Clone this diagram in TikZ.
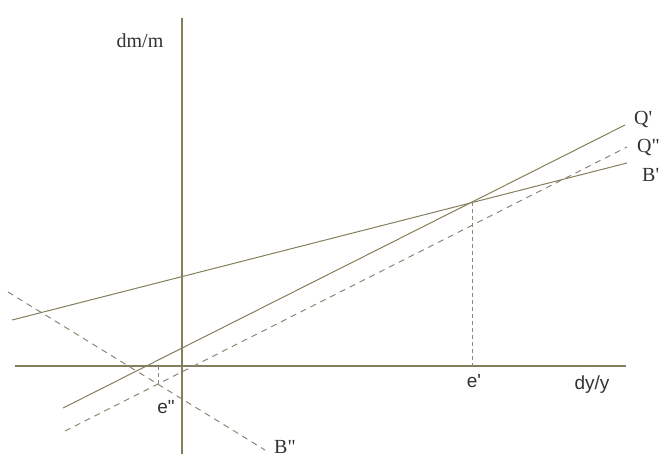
\documentclass[tikz,border=0pt]{standalone}
\usepackage{fontspec}
\setmainfont{Liberation Serif}
\setsansfont{Liberation Sans}
\usetikzlibrary{positioning}
\definecolor{linecol}{RGB}{132,126,92}
\definecolor{dashcol}{RGB}{140,134,114}
\definecolor{labelcol}{RGB}{50,50,50}

\begin{document}
\begin{tikzpicture}[x=1pt, y=-1pt, font=\fontsize{20}{22}\selectfont,
  axis/.style={draw=linecol, line width=1.1pt},
  curve/.style={draw=linecol, line width=1pt},
  shifted/.style={draw=dashcol, line width=1pt, dash pattern=on 6pt off 5pt},
  guide/.style={draw=dashcol, line width=0.8pt, dash pattern=on 4pt off 3pt},
  lbl/.style={text=labelcol, inner sep=0pt},
  slbl/.style={lbl, font=\fontsize{19}{21}\selectfont\sffamily}]

  \useasboundingbox (0,0) rectangle (660,456);

  % Define coordinates for the axes and the line ends
  \coordinate (Vtop) at (182, 18);
  \coordinate (Vbot) at (182, 454);
  \coordinate (Hleft) at (15, 366);
  \coordinate (Hright) at (626, 366);
  \coordinate (Bp0) at (12, 320);
  \coordinate (Bp1) at (627, 163);
  \coordinate (Qp0) at (63, 408);
  \coordinate (Qp1) at (625, 125);
  \coordinate (Qpp0) at (65, 431);
  \coordinate (Qpp1) at (627, 147);
  \coordinate (Bpp0) at (8, 292);
  \coordinate (Bpp1) at (265, 450);
  \coordinate (E1) at (472, 202);
  \coordinate (E1x) at (472, 366);
  \coordinate (E2) at (158, 384);
  \coordinate (E2x) at (158, 366);

  % Labels
  \node[lbl, anchor=base] (dmm) at (140, 47) {dm/m};
  \node[slbl, anchor=base] (dyy) at (592, 389) {dy/y};
  \node[lbl, anchor=base west] (Qp) at (634, 124) {Q\textquotesingle};
  \node[lbl, anchor=base west] (Qpp) at (637, 152) {Q\textquotedbl};
  \node[lbl, anchor=base west] (Bp) at (642, 181) {B\textquotesingle};
  \node[lbl, anchor=base west] (Bpp) at (274, 453) {B\textquotedbl};
  \node[slbl, anchor=base] (e1) at (474, 387) {e\textquotesingle};
  \node[slbl, anchor=base] (e2) at (166, 413) {e\textquotedbl};

  % Draw axes and lines
  \draw[axis] (Vtop) -- (Vbot);
  \draw[axis] (Hleft) -- (Hright);
  \draw[curve] (Bp0) -- (Bp1);
  \draw[curve] (Qp0) -- (Qp1);
  \draw[shifted] (Qpp0) -- (Qpp1);
  \draw[shifted] (Bpp0) -- (Bpp1);
  \draw[guide] (E1) -- (E1x);
  \draw[guide] (E2x) -- (E2);
\end{tikzpicture}
\end{document}
